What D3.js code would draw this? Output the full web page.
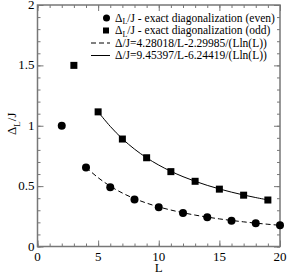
<!DOCTYPE html>
<html><head><meta charset="utf-8">
<script src="https://cdn.jsdelivr.net/npm/d3@7"></script>
<style>body{margin:0;background:#fff}svg{display:block}</style>
</head><body>
<script>
const evenL = [2,4,6,8,10,12,14,16,18,20];
const evenVal = [1.0,0.655,0.49,0.39,0.325,0.277,0.242,0.214,0.192,0.175];
const oddL = [3,5,7,9,11,13,15,17,19];
const oddVal = [1.5,1.115,0.89,0.735,0.62,0.54,0.475,0.425,0.385];
const fitEvenL = [4,5,6,7,8,9,10,11,12,13,14,15,16,17,18,19,20];
const fitEvenVal = [0.655,0.570,0.4995,0.4427,0.3968,0.3593,0.3281,0.3019,0.2796,0.2602,0.2435,0.2287,0.2157,0.2041,0.1936,0.1842,0.1756];
const fitOddL = [5,6,7,8,9,10,11,12,13,14,15,16,17,18,19];
const fitOddVal = [1.115,0.9949,0.892,0.8064,0.7347,0.6742,0.6228,0.5784,0.540,0.5063,0.4766,0.4501,0.4265,0.4052,0.386];
const xTicks = [0,5,10,15,20];
const yTicks = [0,0.5,1,1.5,2];
const yTickLabels = ["0","0.5","1","1.5","2"];
const legendLabels = ["exact diagonalization (even)","exact diagonalization (odd)","\u0394/J=4.28018/L-2.29985/(Lln(L))","\u0394/J=9.45397/L-6.24419/(Lln(L))"];

const FONT="Liberation Serif";
const W=288,H=274;
const svg=d3.select("body").append("svg").attr("width",W).attr("height",H).attr("font-family",FONT);
const x=d3.scaleLinear().domain([0,20]).range([37.5,280]);
const y=d3.scaleLinear().domain([0,2]).range([246.5,5]);
const axisCol="#777";

function ticks(axisFn, scale, major, minor, tr){
  svg.append("g").attr("transform",tr).call(axisFn(scale).tickValues(minor).tickSize(3).tickFormat(""))
    .call(g=>{g.select(".domain").remove();g.selectAll("line").attr("stroke",axisCol);});
  svg.append("g").attr("transform",tr).call(axisFn(scale).tickValues(major).tickSize(6).tickFormat(""))
    .call(g=>{g.select(".domain").remove();g.selectAll("line").attr("stroke",axisCol);});
}
const xMinor=d3.range(0,21,1), yMinor=d3.range(0,2.01,0.1);
ticks(d3.axisTop,x,xTicks,xMinor,`translate(0,${y(0)})`);
ticks(d3.axisBottom,x,xTicks,xMinor,`translate(0,${y(2)})`);
ticks(d3.axisRight,y,yTicks,yMinor,`translate(${x(0)},0)`);
ticks(d3.axisLeft,y,yTicks,yMinor,`translate(${x(20)},0)`);

svg.append("rect").attr("x",x(0)).attr("y",y(2)).attr("width",x(20)-x(0)).attr("height",y(0)-y(2))
  .attr("fill","none").attr("stroke",axisCol).attr("stroke-width",1.5);

svg.append("g").selectAll("text").data(xTicks).join("text")
  .attr("x",d=>x(d)).attr("y",y(0)+14).attr("text-anchor","middle").attr("font-size",13).attr("font-family",FONT).text(d=>d);
svg.append("g").selectAll("text").data(yTicks).join("text")
  .attr("x",x(0)-3).attr("y",d=>y(d)+4).attr("text-anchor","end").attr("font-size",13).attr("font-family",FONT).text((d,i)=>yTickLabels[i]);

svg.append("text").attr("x",x(10)).attr("y",272).attr("text-anchor","middle").attr("font-size",13).attr("font-family",FONT).text("L");
const yl=svg.append("text").attr("transform",`translate(16,${y(1)-2}) rotate(-90)`).attr("text-anchor","middle").attr("font-size",13).attr("font-family",FONT);
yl.append("tspan").text("\u0394");
yl.append("tspan").attr("dy",4).attr("font-size",9).text("L");
yl.append("tspan").attr("dy",-4).text("/J");

const line=d3.line().x(d=>x(d[0])).y(d=>y(d[1])).curve(d3.curveCatmullRom);
svg.append("path").datum(fitEvenL.map((l,i)=>[l,fitEvenVal[i]])).attr("d",line)
  .attr("fill","none").attr("stroke","#000").attr("stroke-width",1).attr("stroke-dasharray","5,3");
svg.append("path").datum(fitOddL.map((l,i)=>[l,fitOddVal[i]])).attr("d",line)
  .attr("fill","none").attr("stroke","#000").attr("stroke-width",1);

svg.append("g").selectAll("circle").data(evenL).join("circle")
  .attr("cx",d=>x(d)).attr("cy",(d,i)=>y(evenVal[i])).attr("r",4).attr("fill","#000");
svg.append("g").selectAll("rect").data(oddL).join("rect")
  .attr("x",d=>x(d)-3.5).attr("y",(d,i)=>y(oddVal[i])-3.5).attr("width",7).attr("height",7).attr("fill","#000");

const lg=svg.append("g");
const rowY=[18,30.5,43,55.5];
const tx=115;
lg.append("circle").attr("cx",106.5).attr("cy",rowY[0]).attr("r",3.5);
lg.append("rect").attr("x",103).attr("y",rowY[1]-3).attr("width",6).attr("height",6);
lg.append("line").attr("x1",91).attr("x2",110).attr("y1",rowY[2]).attr("y2",rowY[2]).attr("stroke","#000").attr("stroke-dasharray","5,3");
lg.append("line").attr("x1",91).attr("x2",110).attr("y1",rowY[3]).attr("y2",rowY[3]).attr("stroke","#000");
[0,1].forEach(i=>{
  const t=lg.append("text").attr("x",tx).attr("y",rowY[i]+3.5).attr("font-size",11.5).attr("font-family",FONT);
  t.append("tspan").text("\u0394");
  t.append("tspan").attr("dy",2.5).attr("font-size",8).text("L");
  t.append("tspan").attr("dy",-2.5).text("/J - "+legendLabels[i]);
});
[2,3].forEach(i=>{
  lg.append("text").attr("x",tx).attr("y",rowY[i]+3.5).attr("font-size",11.5).attr("font-family",FONT).text(legendLabels[i]);
});
</script>
</body></html>
